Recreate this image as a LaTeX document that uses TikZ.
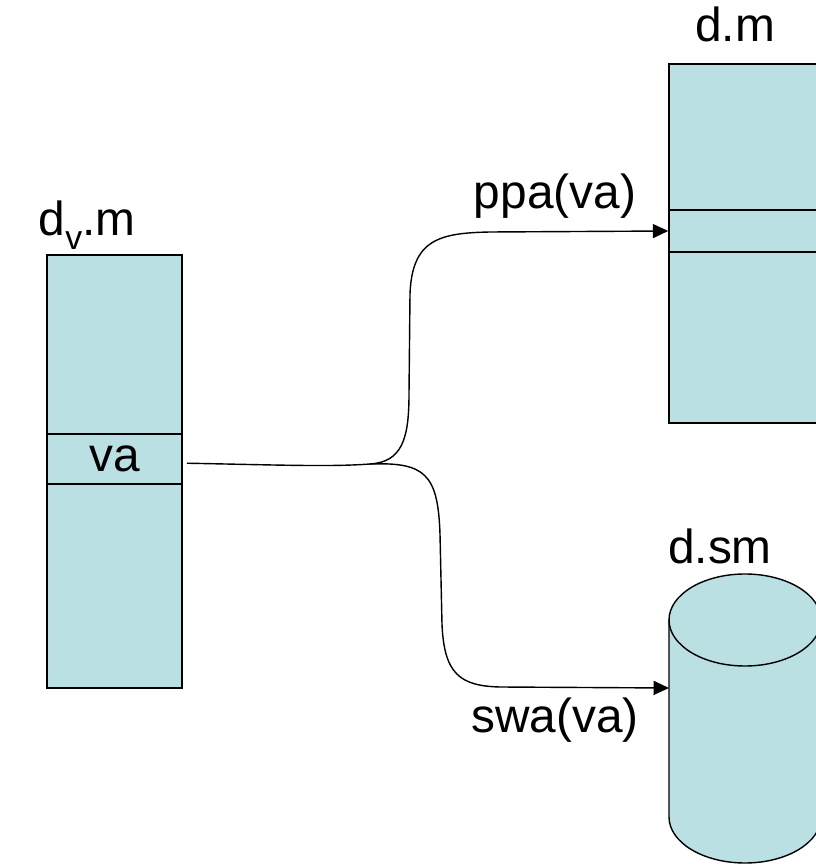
\documentclass[tikz,border=0pt]{standalone}
\usepackage{fontspec}
\setmainfont{Liberation Sans}
\usepackage{tikz}
\usetikzlibrary{arrows.meta}
\usetikzlibrary{positioning}
\definecolor{boxcol}{RGB}{187,224,227}

\tikzset{
  membox/.style={draw, fill=boxcol, line width=1pt, inner sep=0pt},
  lbl/.style={font=\fontsize{34}{41}\selectfont, inner sep=0pt},
  wire/.style={line width=1pt, -{Triangle[length=11pt,width=10pt]}}
}

\begin{document}
\begin{tikzpicture}[x=0.025cm,y=0.025cm]
      \useasboundingbox (0,0) rectangle (816,864);
      \clip (0,0) rectangle (816,864);
      % left memory d_v.m
      \node[membox, minimum width=3.375cm, minimum height=10.825cm] (dvm) at (114.5,392.5) {};
      \node[membox, minimum width=3.375cm, minimum height=1.25cm, lbl] (va) at (114.5,405) {va};
      \node[lbl] (dvmlabel) at (87,639) {d\raisebox{-0.3em}{\fontsize{24}{29}\selectfont v}.m};
      % right memory d.m
      \node[membox, minimum width=4.15cm, minimum height=8.975cm] (dm) at (752,620.5) {};
      \node[membox, minimum width=4.15cm, minimum height=1.05cm] (pslot) at (752,633) {};
      \node[lbl] (dmlabel) at (735,840) {d.m};
      % disk d.sm
      \filldraw[fill=boxcol, line width=1pt] (669,244) -- (669,47)
          arc[start angle=180, end angle=360, x radius=76, y radius=46]
          -- (821,244) arc[start angle=0, end angle=180, x radius=76, y radius=46] -- cycle;
      \draw[line width=1pt] (669,244) arc[start angle=180, end angle=360, x radius=76, y radius=46];
      \node[lbl] (dsmlabel) at (720,318) {d.sm};
      \coordinate (swin) at (669,176);
      % mappings
      \coordinate (junc) at (370,400);
      \draw[line width=1pt] ([xshift=3pt,yshift=-3pt]va.east) .. controls (280,399) and (330,397) .. (junc);
      \draw[wire] (junc) .. controls (402,402) and (409,425) .. (409,470) -- (410,570)
          .. controls (412,625) and (440,631) .. (490,632) -- (pslot.west);
      \draw[wire] (junc) .. controls (425,402) and (438,390) .. (440,330) -- (442,240)
          .. controls (444,190) and (460,178) .. (500,177) -- (swin);
      \node[lbl] (ppalabel) at (555,668) {ppa(va)};
      \node[lbl] (swalabel) at (555,144) {swa(va)};
\end{tikzpicture}
\end{document}
